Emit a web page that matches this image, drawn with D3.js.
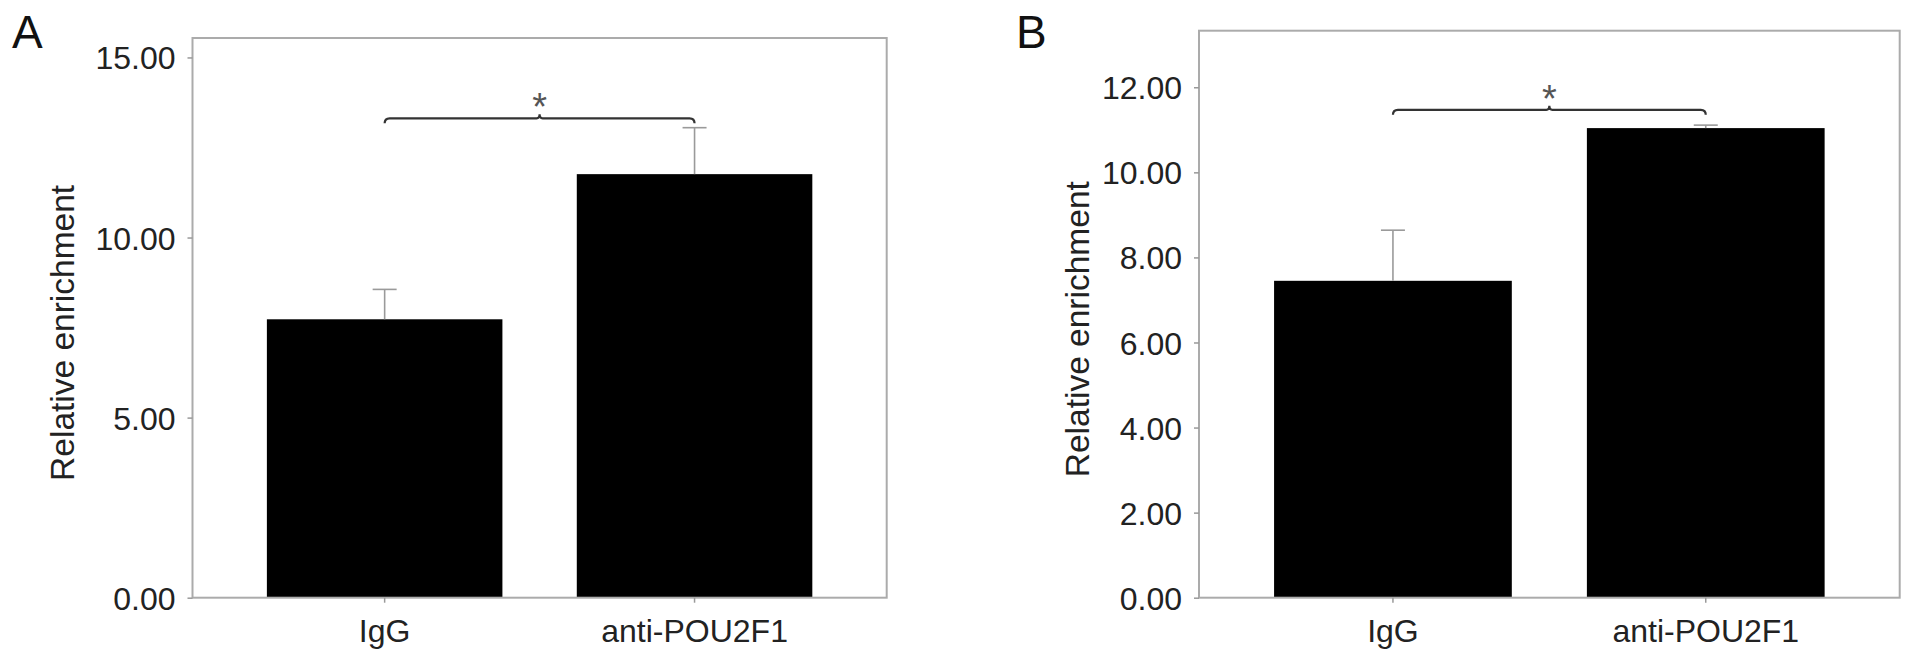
<!DOCTYPE html>
<html><head><meta charset="utf-8">
<script src="https://cdn.jsdelivr.net/npm/d3@7"></script>
<style>
html,body{margin:0;padding:0;background:#fff;}
svg{display:block;}
text{font-family:"Liberation Sans",Arial,Helvetica,sans-serif;}
</style></head>
<body>
<svg id="chart" width="1913" height="661"></svg>
<script>
// ---- data ----
const categories = ["IgG", "anti-POU2F1"];
const meansA = [7.73, 11.76];
const upperErrA = [0.83, 1.29];
const meansB = [7.45, 11.04];
const upperErrB = [1.19, 0.07];
const ticksA = [0, 5, 10, 15];
const ticksB = [0, 2, 4, 6, 8, 10, 12];
const yMaxA = 15.54;
const yMaxB = 13.33;
const bracketA = 13.31;
const bracketB = 11.47;
const panelLabels = ["A", "B"];
const yTitle = "Relative enrichment";
const sigMark = "*";

const svg = d3.select("#chart");
const fmt = d3.format(".2f");

function panel(cfg) {
  const g = svg.append("g");
  const x = d3.scaleBand().domain(categories).range([cfg.left, cfg.right]).paddingInner(0.24).paddingOuter(0.24);
  const y = d3.scaleLinear().domain([0, cfg.yMax]).range([cfg.bottom, cfg.top]);

  // bars
  g.selectAll("rect.bar").data(cfg.means).enter().append("rect")
    .attr("x", (d, i) => x(categories[i]))
    .attr("width", x.bandwidth())
    .attr("y", d => y(d))
    .attr("height", d => y(0) - y(d))
    .attr("fill", "#000");

  // error bars (upper only)
  const eg = g.append("g").attr("stroke", "#9a9a9a").attr("stroke-width", 1.6).attr("fill", "none");
  cfg.means.forEach((m, i) => {
    const cx = x(categories[i]) + x.bandwidth() / 2;
    eg.append("line").attr("x1", cx).attr("x2", cx).attr("y1", y(m)).attr("y2", y(m + cfg.err[i]));
    eg.append("line").attr("x1", cx - 12).attr("x2", cx + 12).attr("y1", y(m + cfg.err[i])).attr("y2", y(m + cfg.err[i]));
  });

  // frame
  g.append("rect").attr("x", cfg.left).attr("y", cfg.top)
    .attr("width", cfg.right - cfg.left).attr("height", cfg.bottom - cfg.top)
    .attr("fill", "none").attr("stroke", "#ababab").attr("stroke-width", 2);

  // y axis
  const ya = g.append("g").attr("transform", `translate(${cfg.left},0)`)
    .call(d3.axisLeft(y).tickValues(cfg.ticks).tickFormat(fmt).tickSize(5).tickPadding(12));
  ya.select(".domain").remove();
  ya.selectAll(".tick line").attr("stroke", "#999").attr("stroke-width", 1.5);
  ya.selectAll(".tick text").attr("font-size", 32).attr("fill", "#222").attr("dy", "0.36em");

  // x axis
  const xa = g.append("g").attr("transform", `translate(0,${cfg.bottom})`)
    .call(d3.axisBottom(x).tickSize(5).tickPadding(17));
  xa.select(".domain").remove();
  xa.selectAll(".tick line").attr("stroke", "#999").attr("stroke-width", 1.5);
  xa.selectAll(".tick text").attr("font-size", 32).attr("fill", "#222").attr("dy", "0.71em");

  // y title
  g.append("text")
    .attr("transform", `translate(${cfg.titleX},${(cfg.top + cfg.bottom) / 2 + 15}) rotate(-90)`)
    .attr("text-anchor", "middle").attr("font-size", 33.5).attr("fill", "#222")
    .text(yTitle);

  // panel label
  g.append("text").attr("x", cfg.labelX).attr("y", 48).attr("font-size", 46).attr("fill", "#111")
    .text(cfg.label);

  // significance bracket
  const x1 = x(categories[0]) + x.bandwidth() / 2;
  const x2 = x(categories[1]) + x.bandwidth() / 2;
  const by = y(cfg.bracket);
  const cx = (x1 + x2) / 2;
  const p = d3.path();
  p.moveTo(x1, by + 5);
  p.quadraticCurveTo(x1, by, x1 + 5, by);
  p.lineTo(cx - 3, by);
  p.quadraticCurveTo(cx, by, cx, by - 4);
  p.quadraticCurveTo(cx, by, cx + 3, by);
  p.lineTo(x2 - 5, by);
  p.quadraticCurveTo(x2, by, x2, by + 5);
  g.append("path").attr("d", p.toString()).attr("fill", "none").attr("stroke", "#333").attr("stroke-width", 2.2);

  g.append("text").attr("x", cx).attr("y", by + 2).attr("text-anchor", "middle")
    .attr("font-size", 38).attr("fill", "#555").text(sigMark);
}

panel({left: 192.5, right: 886.7, top: 38, bottom: 597.7, yMax: yMaxA, ticks: ticksA,
       means: meansA, err: upperErrA, bracket: bracketA, titleX: 74, labelX: 12, label: panelLabels[0]});
panel({left: 1199, right: 1899.7, top: 30.7, bottom: 597.7, yMax: yMaxB, ticks: ticksB,
       means: meansB, err: upperErrB, bracket: bracketB, titleX: 1089, labelX: 1016, label: panelLabels[1]});
</script>
</body></html>
